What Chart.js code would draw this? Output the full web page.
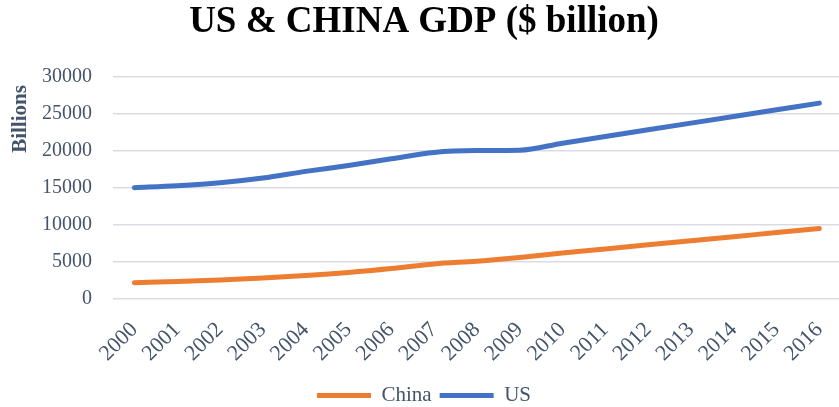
<!DOCTYPE html>
<html>
<head>
<meta charset="utf-8">
<script src="https://cdn.jsdelivr.net/npm/chart.js@4"></script>
<style>
  html, body { margin: 0; padding: 0; background: #fff; overflow: hidden; }
  #wrap { width: 848px; height: 407px; }
</style>
</head>
<body>
<div id="wrap"><canvas id="gdpChart"></canvas></div>
<script>
    // GDP in $ billion, 2000-2016
    const years = ['2000', '2001', '2002', '2003', '2004', '2005', '2006', '2007', '2008',
                   '2009', '2010', '2011', '2012', '2013', '2014', '2015', '2016'];
    const chinaGdp = [2200, 2350, 2570, 2840, 3160, 3570, 4100, 4730, 5100,
                      5600, 6200, 6750, 7300, 7850, 8400, 8950, 9500];
    const usGdp = [15000, 15270, 15670, 16300, 17200, 18000, 18900, 19750, 20000,
                   20050, 21000, 21900, 22800, 23700, 24600, 25500, 26400];
    const yTicks = [0, 5000, 10000, 15000, 20000, 25000, 30000];

    const serif = "'Liberation Serif', 'Times New Roman', serif";
    const textColor = '#44546a';

    // Rotated "Billions" label, sits in the upper part of the y axis
    const axisLabel = {
        id: 'axisLabel',
        afterDraw(chart) {
            const c = chart.ctx;
            c.save();
            c.translate(21, 119);
            c.rotate(-Math.PI / 2);
            c.font = 'bold 21px ' + serif;
            c.fillStyle = textColor;
            c.textAlign = 'center';
            c.textBaseline = 'middle';
            c.fillText('Billions', 0, 0);
            c.restore();
        }
    };

    const ctx = document.getElementById('gdpChart').getContext('2d');

    const gdpChart = new Chart(ctx, {
        type: 'line',
        data: {
            labels: years,
            datasets: [{
                label: 'China',
                data: chinaGdp,
                borderColor: '#ed7d31',
                backgroundColor: '#ed7d31',
                borderWidth: 5,
                borderCapStyle: 'round',
                pointRadius: 0,
                cubicInterpolationMode: 'monotone'
            }, {
                label: 'US',
                data: usGdp,
                borderColor: '#4472c4',
                backgroundColor: '#4472c4',
                borderWidth: 5,
                borderCapStyle: 'round',
                pointRadius: 0,
                cubicInterpolationMode: 'monotone'
            }]
        },
        options: {
            responsive: true,
            maintainAspectRatio: false,
            animation: false,
            layout: {
                padding: { left: 0, right: 0, top: 0, bottom: -9 }
            },
            plugins: {
                title: {
                    display: true,
                    text: 'US & CHINA GDP ($ billion)',
                    color: '#000',
                    font: { family: serif, size: 37, weight: 'bold' },
                    padding: { top: 0, bottom: 32 }
                },
                legend: {
                    position: 'bottom',
                    labels: {
                        usePointStyle: true,
                        pointStyle: 'line',
                        pointStyleWidth: 54,
                        boxHeight: 10,
                        color: textColor,
                        padding: 8,
                        font: { family: serif, size: 21 }
                    }
                },
                tooltip: { enabled: false }
            },
            scales: {
                x: {
                    offset: true,
                    grid: { display: false },
                    border: { display: false },
                    afterFit(axis) { axis.height = 78; },
                    ticks: {
                        color: textColor,
                        minRotation: 45,
                        maxRotation: 45,
                        padding: 10,
                        font: { family: serif, size: 22 }
                    }
                },
                y: {
                    min: 0,
                    max: 30000,
                    afterBuildTicks(axis) {
                        axis.ticks = yTicks.map(v => ({ value: v }));
                    },
                    afterFit(axis) { axis.width = 113; },
                    grid: { color: '#d9dde3', lineWidth: 1.5, drawTicks: false },
                    border: { display: false },
                    ticks: {
                        color: textColor,
                        padding: 21,
                        callback: v => String(v),
                        font: { family: serif, size: 20 }
                    }
                }
            }
        },
        plugins: [axisLabel]
    });
</script>
</body>
</html>
